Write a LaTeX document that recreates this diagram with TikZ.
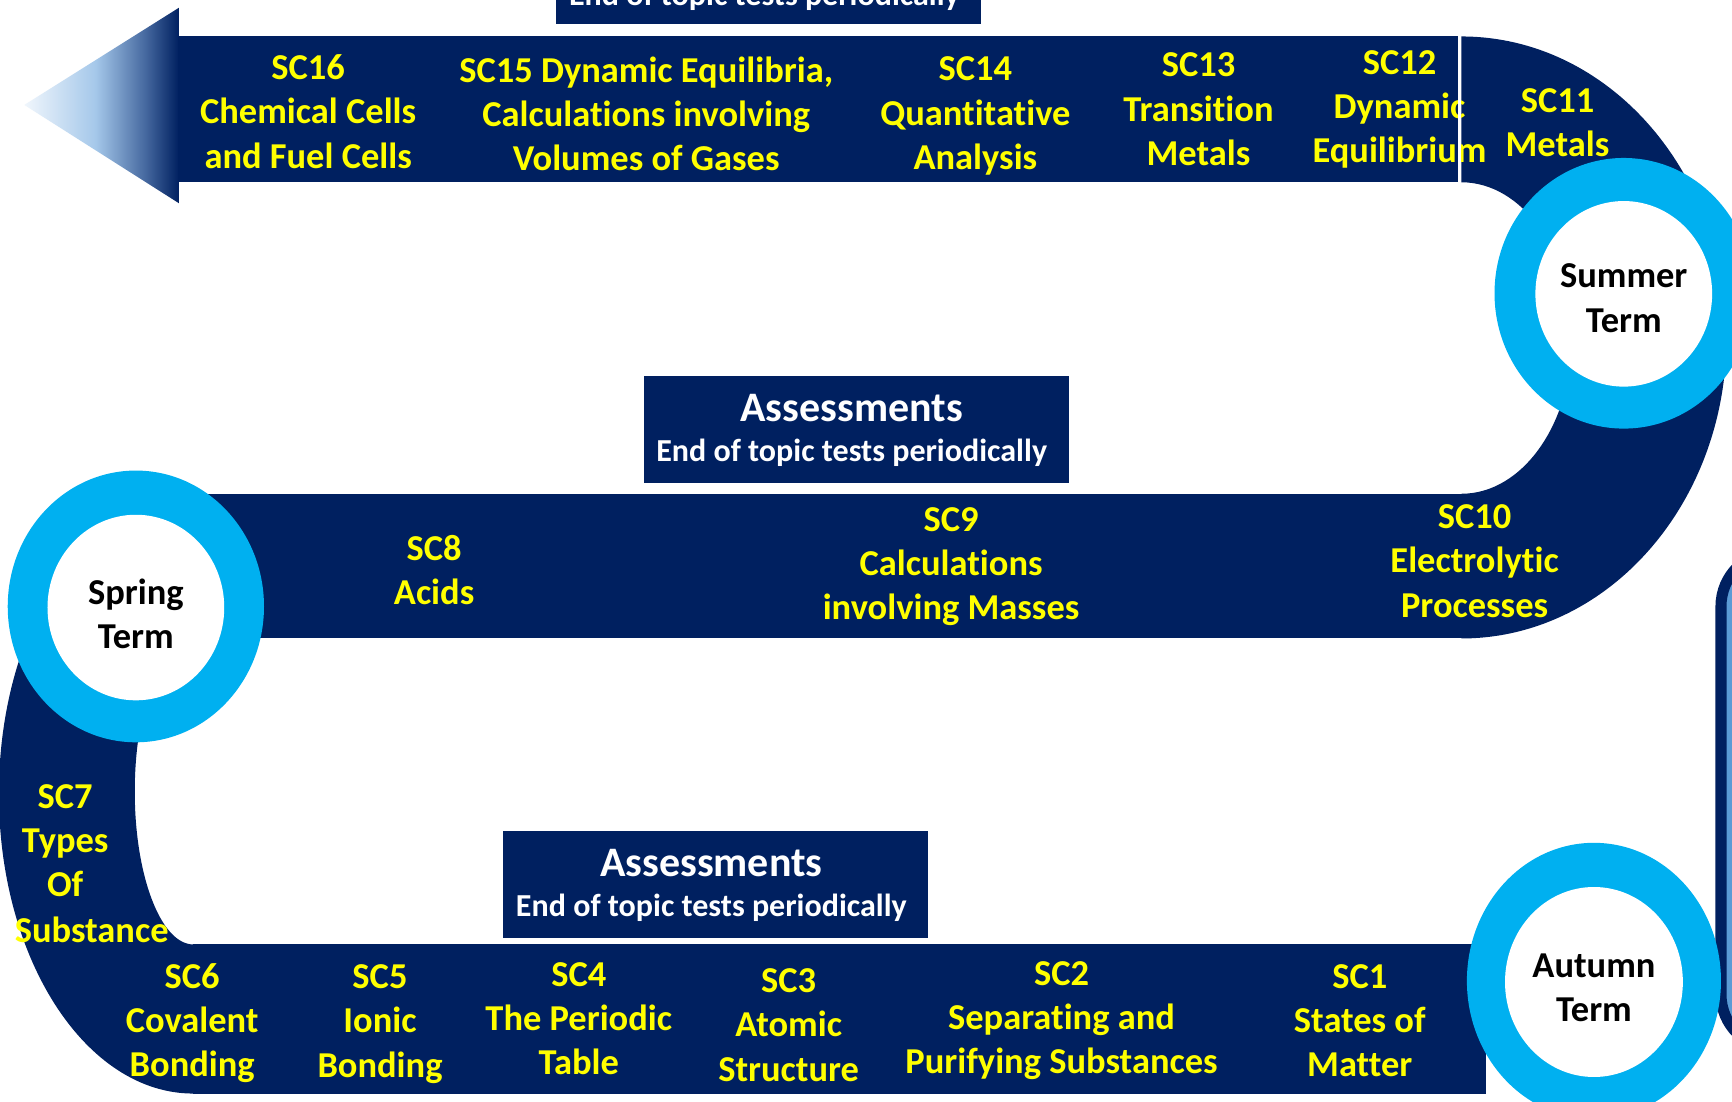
\documentclass[tikz,border=0pt]{standalone}
\usepackage{fontspec}
\setmainfont{Carlito}[Ligatures=NoCommon]
\usetikzlibrary{shapes.geometric}
\definecolor{navy}{RGB}{0,32,96}
\definecolor{ringc}{RGB}{0,176,240}
\definecolor{lblc}{RGB}{255,255,0}
\definecolor{panelc}{RGB}{91,155,213}
\definecolor{tipc}{RGB}{240,246,252}
\definecolor{midc}{RGB}{165,200,234}
\definecolor{midnavy}{RGB}{70,105,160}
\pgfdeclarehorizontalshading{arrowshade}{100bp}{color(0bp)=(tipc); color(25bp)=(tipc); color(48bp)=(midc); color(64bp)=(midnavy); color(75bp)=(navy); color(100bp)=(navy)}
\tikzset{
  band/.style={fill=navy, draw=none},
  lbl/.style={text=lblc, font=\bfseries\fontsize{33}{40}\selectfont, align=center, inner sep=0pt},
  termtext/.style={text=black, font=\bfseries\fontsize{33}{40}\selectfont, align=center, inner sep=0pt},
  ringout/.style={ellipse, fill=ringc, inner sep=0pt},
  ringin/.style={ellipse, fill=white, inner sep=0pt},
  abox/.style={fill=navy, minimum width=385pt, minimum height=97pt, inner sep=0pt},
  atitle/.style={text=white, font=\bfseries\fontsize{38}{40}\selectfont, inner sep=0pt},
  asub/.style={text=white, font=\bfseries\fontsize{29}{34}\selectfont, inner sep=0pt},
}
\begin{document}
\begin{tikzpicture}[x=1pt,y=-1pt]
\useasboundingbox (0,0) rectangle (1568,997);
\clip (0,0) rectangle (1568,997);
\fill[white] (0,0) rectangle (1568,997);

% right side panel (partly visible)
\draw[line width=10pt, draw=navy, fill=panelc, rounded corners=50pt] (1558,499) rectangle (1720,950);

% arrow head
\coordinate (tip) at (22,95);
\coordinate (headtop) at (162,7);
\coordinate (headbot) at (162,184);
\shade[shading=arrowshade] (headtop) -- (tip) -- (headbot) -- cycle;

% bands
\fill[band] (161,33) rectangle (1320,165);
\fill[band] (1323,33) arc[start angle=-90, end angle=90, x radius=240, y radius=272.5]
   -- (1323,447) arc[start angle=90, end angle=-90, x radius=100, y radius=141] -- cycle;
\fill[band] (175,447) rectangle (1335,578);
\fill[band] (175,447) arc[start angle=-90, end angle=-270, x radius=176, y radius=271.5]
   -- (175,855) arc[start angle=90, end angle=270, x radius=53, y radius=138.5] -- cycle;
\fill[band] (175,855) rectangle (1345,990);

% assessment boxes
\node[abox] (assesstop) at (695.5,-26.5) {};
\node[asub] (assesstopsub) at (692,-3) {End of topic tests periodically};
\node[abox] (assessmid) at (775.5,388.5) {};
\node[atitle] (assessmidtitle) at (771,369) {Assessments};
\node[asub] (assessmidsub) at (771,410) {End of topic tests periodically};
\node[abox] (assessbot) at (648,800.5) {};
\node[atitle] (assessbottitle) at (644,781) {Assessments};
\node[asub] (assessbotsub) at (644,822) {End of topic tests periodically};

% term rings
\node[ringout, minimum width=232pt, minimum height=246pt] (springring) at (123,549) {};
\node[ringin, minimum width=160pt, minimum height=168pt] (springin) at (123,550) {};
\node[termtext] (spring) at (123,556) {Spring\\Term};

\node[ringout, minimum width=234pt, minimum height=245pt] (summerring) at (1470,265.5) {};
\node[ringin, minimum width=160pt, minimum height=168pt] (summerin) at (1470,266) {};
\node[termtext] (summer) at (1470,270) {Summer\\Term};

\node[ringout, minimum width=230pt, minimum height=250pt] (autumnring) at (1443,888) {};
\node[ringin, minimum width=161pt, minimum height=172pt] (autumnin) at (1443,889) {};
\node[termtext] (autumn) at (1443,894) {Autumn\\Term};

% top band labels
\node[lbl] (sc16) at (279,101) {SC16\\Chemical Cells\\and Fuel Cells};
\node[lbl] (sc15) at (585,103) {SC15 Dynamic Equilibria,\\Calculations involving\\Volumes of Gases};
\node[lbl] (sc14) at (883,105) {SC14\\Quantitative\\Analysis};
\node[lbl] (sc13) at (1085,99) {SC13\\Transition\\Metals};
\node[lbl] (sc12) at (1267,99) {SC12\\Dynamic\\Equilibrium};
\node[lbl] (sc11) at (1410,111) {SC11\\Metals};

% separator line
\coordinate (septop) at (1321.5,33);
\coordinate (sepbot) at (1321.5,165);
\draw[white, line width=2.5pt] (septop) -- (sepbot);

% middle band labels
\node[lbl] (sc8) at (393,516) {SC8\\Acids};
\node[lbl] (sc9) at (861,513) {SC9\\Calculations\\involving Masses};
\node[lbl] (sc10) at (1335,508) {SC10\\Electrolytic\\Processes};

% left curve labels
\node[lbl] (sc7) at (59,761) {SC7\\Types\\Of};
\node[lbl] (sc7sub) at (83,842) {Substance};

% bottom band labels
\node[lbl] (sc6) at (174,926) {SC6\\Covalent\\Bonding};
\node[lbl] (sc5) at (344,927) {SC5\\Ionic\\Bonding};
\node[lbl] (sc4) at (524,922) {SC4\\The Periodic\\Table};
\node[lbl] (sc3) at (714,928) {SC3\\Atomic\\Structure};
\node[lbl] (sc2) at (961,924) {SC2\\Separating and\\Purifying Substances};
\node[lbl] (sc1) at (1231,924) {SC1\\States of\\Matter};
\end{tikzpicture}
\end{document}
